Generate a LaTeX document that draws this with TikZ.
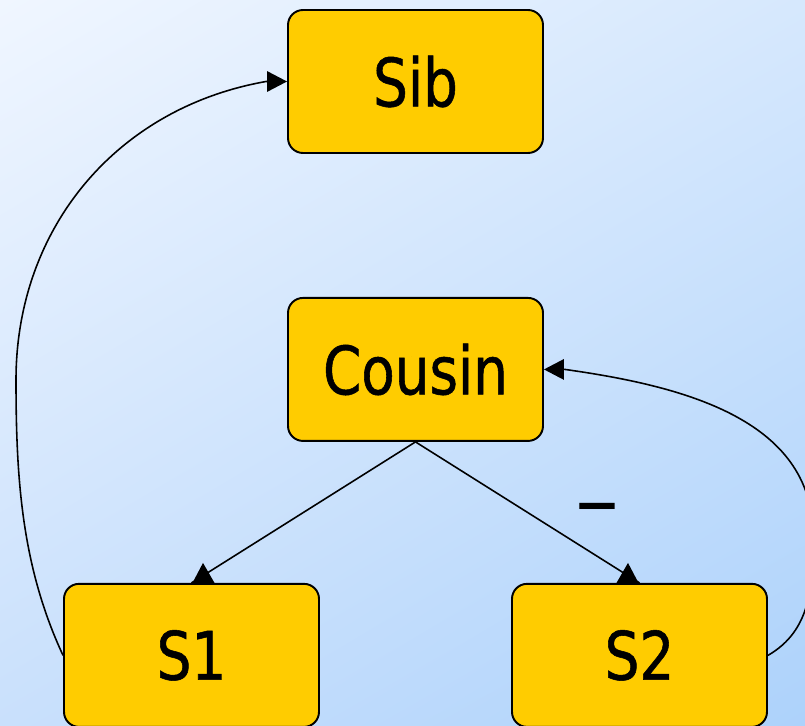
\documentclass[tikz,border=0pt]{standalone}
\usepackage{fontspec}
\setmainfont{DejaVu Sans}
\newfontfamily\boxfont[FakeStretch=0.82, FakeBold=0.8]{DejaVu Sans}
\usetikzlibrary{arrows.meta, shadings}
\usetikzlibrary{positioning}
\definecolor{boxyellow}{HTML}{FFCC00}
\definecolor{bgtl}{HTML}{F0F6FF}
\definecolor{bgtr}{HTML}{D6E8FD}
\definecolor{bgbl}{HTML}{C9E0FC}
\definecolor{bgbr}{HTML}{ADD2FB}
\tikzset{statebox/.style={
        rounded corners=0.3cm, draw, line width=1.1pt, fill=boxyellow,
        minimum width=5.1cm, minimum height=2.86cm,
        font=\fontsize{38}{40}\selectfont\boxfont
    },
    flowline/.style={line width=0.9pt},
    flowarrow/.style={line width=0.9pt, -{Triangle[length=4mm,width=4.1mm]}}
}

\begin{document}
\begin{tikzpicture}

\useasboundingbox (0,0) rectangle (16.1,-14.52);
\shade[upper left=bgtl, upper right=bgtr, lower left=bgbl, lower right=bgbr] (0,0) rectangle (16.1,-14.52);

\node[statebox] (sib) at (8.31,-1.63) {Sib};
\node[statebox, below=2.86cm of sib] (cousin) {Cousin};
\node[statebox, below=2.82cm of cousin, xshift=-4.48cm] (s1) {S1};
\node[statebox, below=2.82cm of cousin, xshift=4.48cm] (s2) {S2};

% tip points of the arrows
\coordinate[above right=0.4cm and 0.23cm of s1.north] (s1tip);
\coordinate[above left=0.4cm and 0.23cm of s2.north] (s2tip);
\coordinate[left=0.42cm of sib.west] (sibtip);
\coordinate[right=0.42cm of cousin.east] (cousintip);
\coordinate (leftbend) at (0.32,-7.6);
\coordinate (rightbend) at (16.26,-10.7);

\draw[flowline] (cousin.south) -- (s1.north);
\draw[flowline] (cousin.south) -- node[midway, xshift=1.4cm, yshift=-0.09cm, font=\fontsize{50}{52}\selectfont] (minus) {–} (s2.north);
\fill (s1tip) -- ++(-0.21,-0.4) -- ++(0.44,0) -- cycle;
\fill (s2tip) -- ++(-0.23,-0.4) -- ++(0.44,0) -- cycle;

\draw[flowarrow] (s1.west) to[out=115, in=-90, looseness=0.9] (leftbend) to[out=90, in=190] (sibtip) -- (sib.west);
\draw[flowarrow] (s2.east) to[out=30, in=-90] (rightbend) to[out=90, in=-8] (cousintip) -- (cousin.east);

\end{tikzpicture}
\end{document}
